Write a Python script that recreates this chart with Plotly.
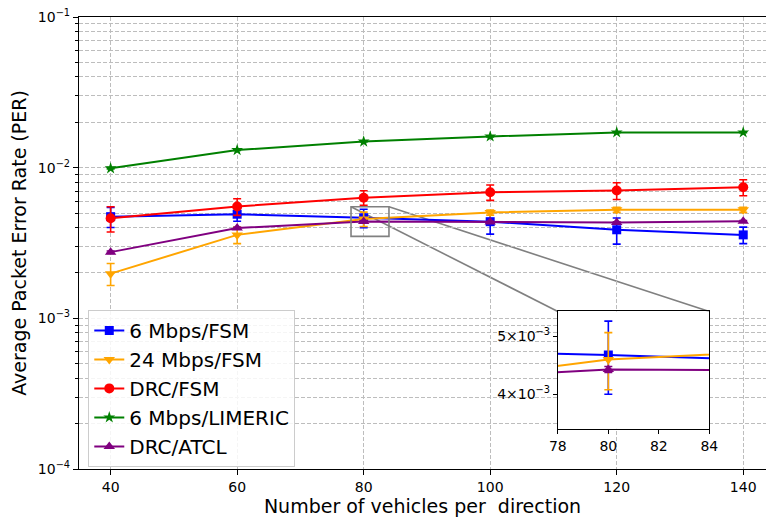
import numpy as np
import plotly.graph_objects as go

FONT = "DejaVu Sans"
GRID_CLR = "#bdbdbd"

# ── data ─────────────────────────────────────────────────────
vehicles = [40, 60, 80, 100, 120, 140]

per_6m_fsm = [0.00473, 0.00491, 0.00465, 0.00438, 0.00387, 0.00358]
err_6m_fsm = [0.00072, 0.00050, 0.00065, 0.00076, 0.00076, 0.00045]

per_24m_fsm = [0.00198, 0.00358, 0.00457, 0.00504, 0.00525, 0.00525]
err_24m_fsm = [0.00033, 0.00045, 0.00050, 0.00020, 0.00020, 0.00020]

per_drc_fsm = [0.00462, 0.00552, 0.00632, 0.00687, 0.00705, 0.00741]
err_drc_fsm = [0.00088, 0.00070, 0.00070, 0.00080, 0.00090, 0.00090]

per_limeric = [0.00990, 0.01309, 0.01490, 0.01610, 0.01714, 0.01714]
err_limeric = [0.00010, 0.00010, 0.00010, 0.00010, 0.00010, 0.00010]

per_atcl = [0.00275, 0.00397, 0.00440, 0.00436, 0.00432, 0.00441]
err_atcl = [0.00005, 0.00005, 0.00005, 0.00005, 0.00005, 0.00005]

series = [
    ("6 Mbps/FSM",     per_6m_fsm,  err_6m_fsm,  "blue",   "square",        9),
    ("24 Mbps/FSM",    per_24m_fsm, err_24m_fsm, "orange", "triangle-down", 10),
    ("DRC/FSM",        per_drc_fsm, err_drc_fsm, "red",    "circle",        10),
    ("6 Mbps/LIMERIC", per_limeric, err_limeric, "green",  "star",          9),
    ("DRC/ATCL",       per_atcl,    err_atcl,    "purple", "triangle-up",   10),
]

# main axes ranges and inset zoom window
X_RANGE = [35, 143.6]
Y_RANGE = [-4, -1]
ZOOM_X = [78, 84]
ZOOM_Y = [0.0035, 0.0055]
INSET_DX = [0.697, 0.9175]
INSET_DY = [0.0888, 0.3485]

fig = go.Figure()

for name, y, e, color, symbol, size in series:
    for xa, ya, show in [("x", "y", True), ("x2", "y2", False)]:
        fig.add_trace(go.Scatter(
            x=vehicles, y=y, name=name, mode="lines+markers",
            xaxis=xa, yaxis=ya, showlegend=show,
            line=dict(color=color, width=2),
            marker=dict(symbol=symbol, size=size, color=color,
                        line=dict(width=0)),
            error_y=dict(type="data", array=e, color=color,
                         thickness=1.6, width=4),
        ))

# ── grids / ticks ────────────────────────────────────────────
minor_vals = [m * 10.0 ** p for p in range(-4, -1) for m in range(2, 10)]

fig.update_layout(
    width=766, height=519,
    paper_bgcolor="white", plot_bgcolor="white",
    margin=dict(l=79, r=0, t=17, b=50),
    font=dict(family=FONT, size=14, color="black"),
    showlegend=True,
    legend=dict(x=0.0135, y=0.352, xanchor="left", yanchor="top",
                bgcolor="rgba(255,255,255,0.85)", bordercolor="#cccccc",
                borderwidth=1, font=dict(size=20, family=FONT),
                tracegroupgap=0),
    xaxis=dict(
        range=X_RANGE, domain=[0, 1], automargin=False,
        tickvals=vehicles, ticks="outside", ticklen=5, tickcolor="black",
        showline=True, linecolor="black", linewidth=1.2, mirror=True,
        showgrid=True, gridcolor=GRID_CLR, griddash="4px,2px", gridwidth=1,
        zeroline=False,
        title=dict(text="Number of vehicles per  direction",
                   font=dict(size=19), standoff=2),
    ),
    yaxis=dict(
        type="log", range=Y_RANGE, domain=[0, 1], automargin=False,
        tickvals=[1e-4, 1e-3, 1e-2, 1e-1],
        ticktext=["10<sup>−4</sup>", "10<sup>−3</sup>",
                  "10<sup>−2</sup>", "10<sup>−1</sup>"],
        ticks="outside", ticklen=5, tickcolor="black",
        showline=True, linecolor="black", linewidth=1.2,
        showgrid=True, gridcolor=GRID_CLR, griddash="4px,2px", gridwidth=1,
        minor=dict(tickvals=minor_vals, ticks="outside", ticklen=3,
                   tickcolor="black", showgrid=True, gridcolor=GRID_CLR,
                   griddash="4px,2px", gridwidth=1),
        zeroline=False,
        title=dict(text="Average Packet Error Rate (PER)",
                   font=dict(size=19), standoff=6),
    ),
    xaxis2=dict(
        range=ZOOM_X, domain=INSET_DX, anchor="y2", automargin=False,
        tickvals=[78, 80, 82, 84], ticks="outside", ticklen=4,
        tickcolor="black", showline=True, linecolor="black", linewidth=1,
        mirror=True, showgrid=False, zeroline=False,
    ),
    yaxis2=dict(
        type="log", range=[np.log10(ZOOM_Y[0]), np.log10(ZOOM_Y[1])],
        domain=INSET_DY, anchor="x2", automargin=False,
        tickvals=[0.004, 0.005],
        ticktext=["4×10<sup>−3</sup>", "5×10<sup>−3</sup>"],
        ticks="outside", ticklen=4, tickcolor="black",
        showline=True, linecolor="black", linewidth=1, mirror=True,
        showgrid=False, zeroline=False,
    ),
)

# white background for the inset
fig.add_shape(type="rect", xref="x2 domain", yref="y2 domain",
              x0=0, x1=1, y0=0, y1=1, fillcolor="white",
              line=dict(width=0), layer="below")

# zoom rectangle on the main axes
fig.add_shape(type="rect", xref="x", yref="y",
              x0=ZOOM_X[0], x1=ZOOM_X[1], y0=ZOOM_Y[0], y1=ZOOM_Y[1],
              line=dict(color="gray", width=1.6), layer="above")


# connector lines: rectangle top corners -> inset top corners
def to_paper_x(v):
    return (v - X_RANGE[0]) / (X_RANGE[1] - X_RANGE[0])


def to_paper_y(v):
    return (np.log10(v) - Y_RANGE[0]) / (Y_RANGE[1] - Y_RANGE[0])


for zx, ix in [(ZOOM_X[0], INSET_DX[0]), (ZOOM_X[1], INSET_DX[1])]:
    fig.add_shape(type="line", xref="paper", yref="paper",
                  x0=to_paper_x(zx), y0=to_paper_y(ZOOM_Y[1]),
                  x1=ix, y1=INSET_DY[1],
                  line=dict(color="gray", width=1.6), layer="below")

fig.write_html(
    "out.html",
    config={"displayModeBar": False},
    post_script="document.body.style.margin='0';"
                "document.body.style.overflow='hidden';",
)
